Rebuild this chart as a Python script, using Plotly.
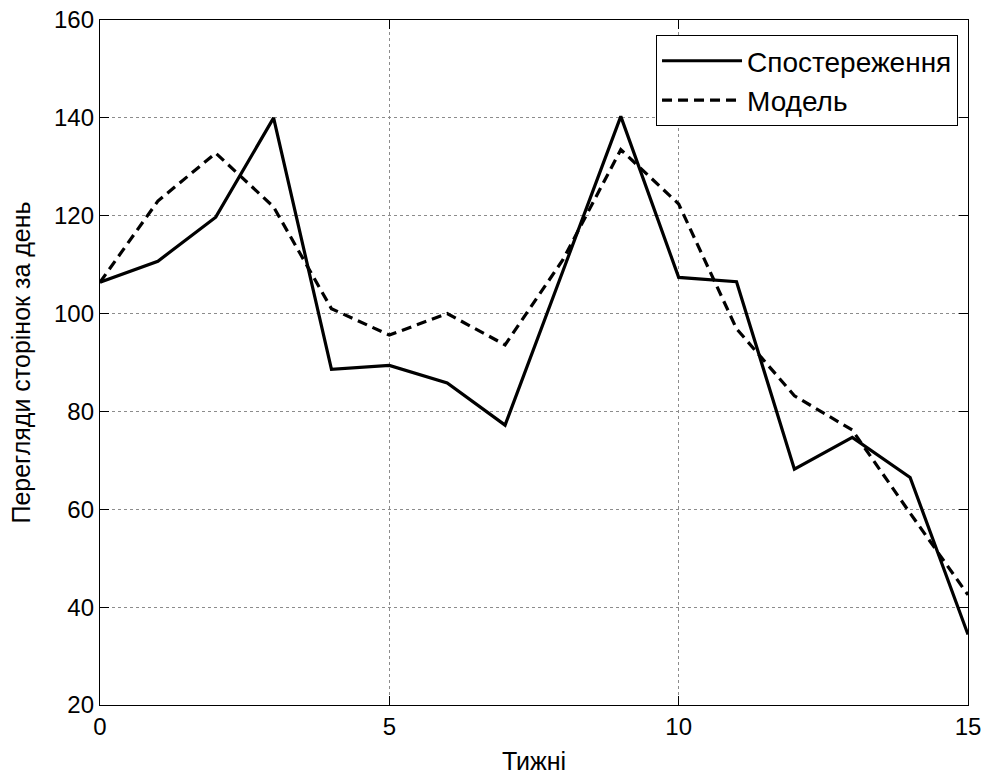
import plotly.graph_objects as go

# Weekly page views: observed values and model fit
weeks = list(range(16))
observed = [106.4, 110.7, 119.7, 140.0, 88.6, 89.4, 85.8, 77.2,
            108.7, 140.3, 107.4, 106.5, 68.2, 74.7, 66.5, 34.4]
model = [106.4, 123.0, 132.8, 121.8, 101.0, 95.6, 100.0, 93.6,
         111.0, 133.5, 122.4, 96.9, 83.2, 76.2, 59.2, 42.5]

series_names = ["Спостереження", "Модель"]
x_ticks = [0, 5, 10, 15]
y_ticks = [20, 40, 60, 80, 100, 120, 140, 160]

font_family = "Liberation Sans, Arial, sans-serif"

fig = go.Figure()
fig.add_trace(go.Scatter(
    x=weeks, y=observed, mode="lines", name=series_names[0], legendgroup="obs",
    line=dict(color="black", width=3.2),
))
fig.add_trace(go.Scatter(
    x=weeks, y=model, mode="lines", name=series_names[1], legendgroup="model",
    line=dict(color="black", width=3.2, dash="10px,6px"),
))

axis_common = dict(
    showline=True, linecolor="black", linewidth=1.3, mirror="ticks",
    ticks="inside", ticklen=9, tickcolor="black", tickwidth=1,
    showgrid=True, gridcolor="#8c8c8c", gridwidth=1, griddash="dot",
    zeroline=False, automargin=False,
    tickfont=dict(size=24, color="black", family=font_family),
)

fig.update_xaxes(
    range=[0, 15], tickvals=x_ticks, ticktext=[str(v) for v in x_ticks],
    title=dict(text="Тижні", font=dict(size=25, color="black", family=font_family), standoff=14),
    **axis_common,
)
fig.update_yaxes(
    range=[20, 160], tickvals=y_ticks, ticktext=[str(v) for v in y_ticks],
    title=dict(text="Перегляди сторінок за день", font=dict(size=25, color="black", family=font_family), standoff=16),
    **axis_common,
)

fig.update_layout(
    width=989, height=775,
    margin=dict(l=100, r=21, t=20, b=70),
    paper_bgcolor="white", plot_bgcolor="white",
    font=dict(family=font_family, color="black"),
    showlegend=True,
    legend=dict(
        x=0.9885, y=0.978, xanchor="right", yanchor="top",
        bgcolor="white", bordercolor="black", borderwidth=1,
        font=dict(size=28, color="black", family=font_family),
        itemwidth=80, tracegroupgap=0,
    ),
)

fig.write_html("out.html")
